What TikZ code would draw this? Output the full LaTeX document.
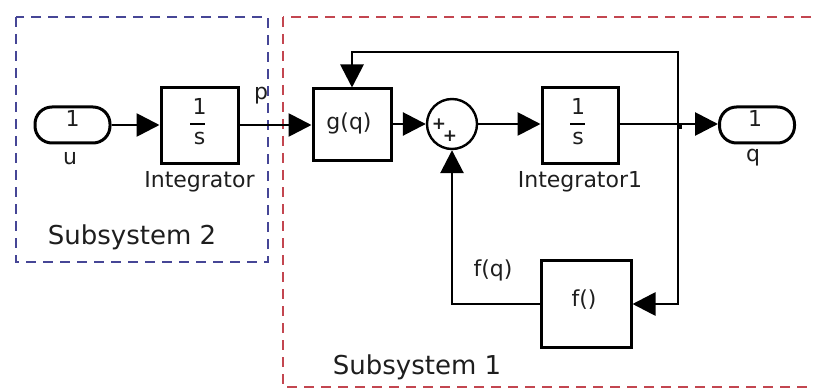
\documentclass[tikz,border=0pt]{standalone}
\usepackage{fontspec}
\setmainfont{DejaVu Sans}
\usetikzlibrary{arrows.meta}
\definecolor{subblue}{RGB}{70,70,150}
\definecolor{subred}{RGB}{195,70,80}
\definecolor{txt}{RGB}{30,30,30}
\begin{document}
\begin{tikzpicture}[x=1pt,y=-1pt,
  blk/.style={draw, line width=3pt, inner sep=0pt},
  port/.style={draw, line width=3pt, rounded corners=17pt, minimum width=75pt, minimum height=36pt, inner sep=0pt},
  sig/.style={line width=2.8pt, -{Triangle[length=23pt,width=23pt]}},
  lbl/.style={inner sep=0pt, text=txt, font=\fontsize{22}{24}\selectfont},
  sublbl/.style={inner sep=0pt, text=txt, font=\fontsize{26}{28}\selectfont},
  plus/.style={inner sep=0pt, text=txt, font=\fontsize{17}{17}\selectfont\bfseries},
  subbox/.style={line width=2pt, dash pattern=on 10pt off 7pt}
]
\useasboundingbox (0,0) rectangle (813,390);
\clip (0,0) rectangle (813,390);

% subsystem frames
\draw[subbox, subblue] (16,17) rectangle (268,262);
\draw[subbox, subred] (283,17) rectangle (840,387);
\node[sublbl] (sub2) at (132,237) {Subsystem 2};
\node[sublbl] (sub1) at (417,367) {Subsystem 1};

% blocks
\node[port] (u) at (72.5,125) {};
\node[lbl] (u1) at (72.5,118) {1};
\node[lbl] (ul) at (70,158) {u};

\node[blk, minimum width=77pt, minimum height=76pt] (int) at (199.5,126) {};
\node[lbl] (intn) at (199.5,106) {1};
\draw[line width=2.4pt] (190,124) -- (205,124);
\node[lbl] (intd) at (199.5,138) {s};
\node[lbl] (intl) at (199.5,182) {Integrator};
\node[lbl] (p) at (261,96) {p};

\node[blk, minimum width=78pt, minimum height=72pt] (gq) at (352,125) {};
\node[lbl] (gqt) at (349,123) {g(q)};

\node[draw, circle, line width=2.4pt, minimum size=50pt, inner sep=0pt] (sum) at (452,124) {};
\node[plus] (sp1) at (439,124) {+};
\node[plus] (sp2) at (450,136) {+};

\node[blk, minimum width=76pt, minimum height=76pt] (int1) at (580,126) {};
\node[lbl] (int1n) at (578,106) {1};
\draw[line width=2.4pt] (570,124) -- (585,124);
\node[lbl] (int1d) at (578,138) {s};
\node[lbl] (int1l) at (580,182) {Integrator1};

\node[port] (q) at (757,125) {};
\node[lbl] (q1) at (755,118) {1};
\node[lbl] (ql) at (753,158) {q};

\node[blk, minimum width=90pt, minimum height=87pt] (f) at (586,304) {};
\node[lbl] (ft) at (584,300) {f()};
\node[lbl] (fq) at (493,270) {f(q)};

% connectors
\coordinate (br) at (678,124);
\coordinate (brtop) at (678,52);
\draw[sig] (u.east) -- (int.west |- u.east);
\draw[sig] (int.east |- u.east) -- (gq.west |- u.east);
\draw[sig] (gq.east |- sum.west) -- (sum.west);
\draw[sig] (sum.east) -- (int1.west |- sum.east);
\draw[sig] (int1.east |- sum.east) -- (q.west |- sum.east);
\fill (br) ++(-1,-1) rectangle ++(5,6);
\draw[sig] (br) -- (brtop) -| (gq.north);
\draw[sig] (br) |- (f.east);
\draw[sig] (f.west) -| (sum.south);
\end{tikzpicture}
\end{document}
